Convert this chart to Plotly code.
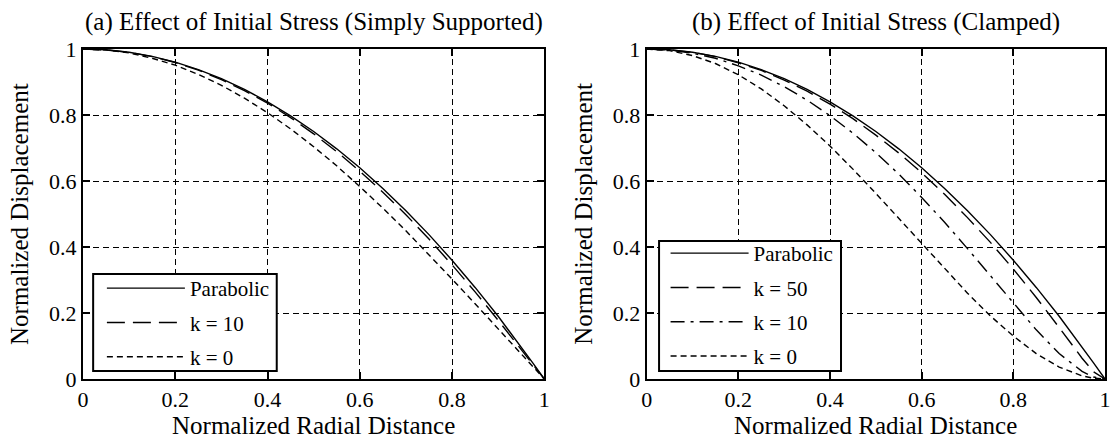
import plotly.graph_objects as go

# ---- data ----
r = [0, 0.05, 0.1, 0.15, 0.2, 0.25, 0.3, 0.35, 0.4, 0.45, 0.5, 0.55, 0.6,
     0.65, 0.7, 0.75, 0.8, 0.85, 0.9, 0.95, 0.975, 1.0]

parabolic = [1.0, 0.9975, 0.990, 0.9775, 0.960, 0.9375, 0.910, 0.8775, 0.840,
             0.7975, 0.750, 0.6975, 0.640, 0.5775, 0.510, 0.4375, 0.360,
             0.2775, 0.190, 0.0975, 0.049, 0.0]

ss_k10 = [1.0, 0.997, 0.990, 0.977, 0.959, 0.936, 0.907, 0.874, 0.836, 0.792,
          0.743, 0.689, 0.630, 0.566, 0.498, 0.424, 0.346, 0.264, 0.178,
          0.089, 0.045, 0.0]
ss_k0 = [1.0, 0.997, 0.988, 0.972, 0.951, 0.923, 0.890, 0.851, 0.807, 0.758,
         0.704, 0.646, 0.583, 0.518, 0.449, 0.377, 0.303, 0.228, 0.152,
         0.076, 0.038, 0.0]

cl_k50 = [1.0, 0.997, 0.990, 0.977, 0.958, 0.935, 0.906, 0.872, 0.833, 0.789,
          0.739, 0.685, 0.625, 0.560, 0.489, 0.414, 0.333, 0.247, 0.156,
          0.063, 0.022, 0.0]
cl_k10 = [1.0, 0.997, 0.987, 0.972, 0.949, 0.921, 0.886, 0.845, 0.798, 0.745,
          0.686, 0.621, 0.550, 0.475, 0.395, 0.313, 0.230, 0.149, 0.077,
          0.023, 0.006, 0.0]
cl_k0 = [1.0, 0.995, 0.980, 0.956, 0.922, 0.879, 0.828, 0.770, 0.706, 0.636,
         0.5625, 0.487, 0.410, 0.334, 0.260, 0.191, 0.130, 0.077, 0.036,
         0.0095, 0.0024, 0.0]

ticks = [0, 0.2, 0.4, 0.6, 0.8, 1]
tick_text = ["0", "0.2", "0.4", "0.6", "0.8", "1"]

titles = ["(a) Effect of Initial Stress (Simply Supported)",
          "(b) Effect of Initial Stress (Clamped)"]
xlabel = "Normalized Radial Distance"
ylabel = "Normalized Displacement"

# ---- styles ----
FONT = "Liberation Serif, Times New Roman, serif"
SOLID = "solid"
LONG = "18px,8px"
DASHDOT = "14px,6px,3px,6px"
SHORT = "6px,4px"

fig = go.Figure()

def add(y, name, dash, xa, ya, leg, grp):
    fig.add_trace(go.Scatter(x=r, y=y, name=name, mode="lines",
                             line=dict(color="black", width=1.4, dash=dash),
                             xaxis=xa, yaxis=ya, legend=leg,
                             legendgroup=grp))

add(parabolic, "Parabolic", SOLID, "x", "y", "legend", "a1")
add(ss_k10, "k = 10", LONG, "x", "y", "legend", "a2")
add(ss_k0, "k = 0", SHORT, "x", "y", "legend", "a3")

add(parabolic, "Parabolic", SOLID, "x2", "y2", "legend2", "b1")
add(cl_k50, "k = 50", LONG, "x2", "y2", "legend2", "b2")
add(cl_k10, "k = 10", DASHDOT, "x2", "y2", "legend2", "b3")
add(cl_k0, "k = 0", SHORT, "x2", "y2", "legend2", "b4")

W, H = 1116, 442
ML, MR, MT, MB = 83, 5, 49, 63
PW = W - ML - MR

def px(xp):
    return (xp - ML) / PW

axis_common = dict(range=[0, 1], tickvals=ticks, ticktext=tick_text,
                   ticks="inside", ticklen=7, tickwidth=1.5, tickcolor="black",
                   showline=True, linecolor="black", linewidth=2, mirror="ticks",
                   showgrid=True, gridcolor="black", gridwidth=1,
                   griddash="6px,4px", zeroline=False,
                   tickfont=dict(family=FONT, size=22, color="black"))

leg_common = dict(xanchor="left", yanchor="bottom", y=0.006,
                  bgcolor="rgba(0,0,0,0)", borderwidth=0,
                  itemwidth=78, tracegroupgap=4,
                  font=dict(family=FONT, size=21, color="black"))

fig.update_layout(
    width=W, height=H,
    margin=dict(l=ML, r=MR, t=MT, b=MB),
    paper_bgcolor="white", plot_bgcolor="white",
    font=dict(family=FONT, size=22, color="black"),
    xaxis=dict(domain=[0, px(547)], anchor="y", **axis_common),
    yaxis=dict(domain=[0, 1], anchor="x", **axis_common),
    xaxis2=dict(domain=[px(650), 1], anchor="y2", **axis_common),
    yaxis2=dict(domain=[0, 1], anchor="x2", **axis_common),
    legend=dict(x=px(102), **leg_common),
    legend2=dict(x=px(669), **leg_common),
    showlegend=True,
)

# legend frames (white boxes with black border, in data coordinates)
box_style = dict(type="rect", fillcolor="white", layer="above",
                 line=dict(color="black", width=2))
fig.add_shape(xref="x", yref="y", x0=0.022, x1=0.42, y0=0.024, y1=0.318,
              **box_style)
fig.add_shape(xref="x2", yref="y2", x0=0.027, x1=0.424, y0=0.024, y1=0.418,
              **box_style)

ann = []
for xr, t in [("x domain", titles[0]), ("x2 domain", titles[1])]:
    ann.append(dict(text=t, xref=xr, yref="paper", x=0.5, y=1, yshift=27,
                    xanchor="center", yanchor="middle", showarrow=False,
                    font=dict(family=FONT, size=25, color="black")))
    ann.append(dict(text=xlabel, xref=xr, yref="paper", x=0.5, y=0, yshift=-46,
                    xanchor="center", yanchor="middle", showarrow=False,
                    font=dict(family=FONT, size=25, color="black")))
    ann.append(dict(text=ylabel, xref=xr, yref="paper", x=0, y=0.5, xshift=-64,
                    xanchor="center", yanchor="middle", textangle=-90,
                    showarrow=False,
                    font=dict(family=FONT, size=25, color="black")))
fig.update_layout(annotations=ann)

fig.write_html("out.html")
